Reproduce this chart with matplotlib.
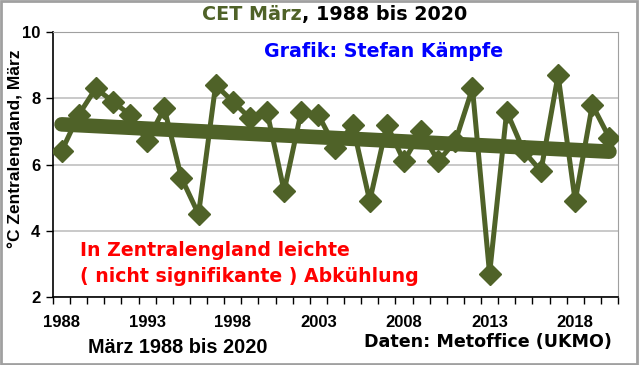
import numpy as np
import matplotlib.pyplot as plt
from matplotlib.patches import Rectangle

plt.rcParams['font.family'] = ['Liberation Sans', 'DejaVu Sans']

years = list(range(1988, 2021))
temps = [6.4, 7.5, 8.3, 7.9, 7.5, 6.7, 7.7, 5.6, 4.5, 8.4,
         7.9, 7.4, 7.6, 5.2, 7.6, 7.5, 6.5, 7.2, 4.9, 7.2,
         6.1, 7.0, 6.1, 6.7, 8.3, 2.7, 7.6, 6.4, 5.8, 8.7,
         4.9, 7.8, 6.8]
tick_years = [1988, 1993, 1998, 2003, 2008, 2013, 2018]

olive = '#4F6228'
wide = ['DejaVu Sans']
x = np.arange(len(years))

fig = plt.figure(figsize=(6.4, 3.65), dpi=100)
ax = fig.add_axes([0.0828, 0.1863, 0.8828, 0.726])

ax.plot(x, temps, color=olive, lw=3.6, marker='D', ms=11, zorder=3)
# linearer Trend
k, d = np.polyfit(x, temps, 1)
ax.plot(x, k * x + d, color=olive, lw=10.5, solid_capstyle='round', zorder=4)

ax.set_ylim(2, 10)
ax.set_xlim(-0.5, len(years) - 0.5)
ax.set_yticks([2, 4, 6, 8, 10])
ax.grid(axis='y', color='#C0C0C0', lw=1.2)
ax.set_axisbelow(True)
ax.set_xticks([years.index(y) for y in tick_years])
ax.set_xticklabels(tick_years)
ax.set_xticks(np.arange(-0.5, len(years)), minor=True)
ax.tick_params(axis='x', which='major', length=0, pad=13)
ax.tick_params(axis='x', which='minor', length=5, width=1, direction='out')
ax.tick_params(axis='y', length=5, width=1, direction='out', pad=4)
for lab in ax.get_xticklabels() + ax.get_yticklabels():
    lab.set_fontweight('bold')
    lab.set_fontsize(12)
for s in ['top', 'right']:
    ax.spines[s].set_color('#A0A0A0')
for s in ['left', 'bottom']:
    ax.spines[s].set_linewidth(1.2)

fig.text(0.023, 0.592, '°C Zentralengland, März', fontsize=12.5, fontweight='bold',
         rotation=90, ha='center', va='center')

t1 = fig.text(0.316, 0.959, 'CET März', color=olive, fontsize=13.8, fontweight='bold',
              family=wide, ha='left', va='center')
ax.annotate(', 1988 bis 2020', xy=(1, 0.5), xycoords=t1, color='black', fontsize=13.8,
            fontweight='bold', family=wide, ha='left', va='center')
fig.text(0.599, 0.858, 'Grafik: Stefan Kämpfe', color='#0000FF', fontsize=13.7,
         fontweight='bold', family=wide, ha='center', va='center')
fig.text(0.125, 0.315, 'In Zentralengland leichte', color='#FF0000', fontsize=13.6,
         fontweight='bold', family=wide, ha='left', va='center')
fig.text(0.125, 0.242, '( nicht signifikante ) Abkühlung', color='#FF0000', fontsize=13.6,
         fontweight='bold', family=wide, ha='left', va='center')
fig.text(0.278, 0.049, 'März 1988 bis 2020', color='black', fontsize=14.3,
         fontweight='bold', ha='center', va='center')
fig.text(0.956, 0.063, 'Daten: Metoffice (UKMO)', color='black', fontsize=12.6,
         fontweight='bold', family=wide, ha='right', va='center')

fig.patches.append(Rectangle((0.002, 0.003), 0.993, 0.993, transform=fig.transFigure,
                             fill=False, edgecolor='#A0A0A0', lw=2))

fig.savefig('out.png', dpi=100)
